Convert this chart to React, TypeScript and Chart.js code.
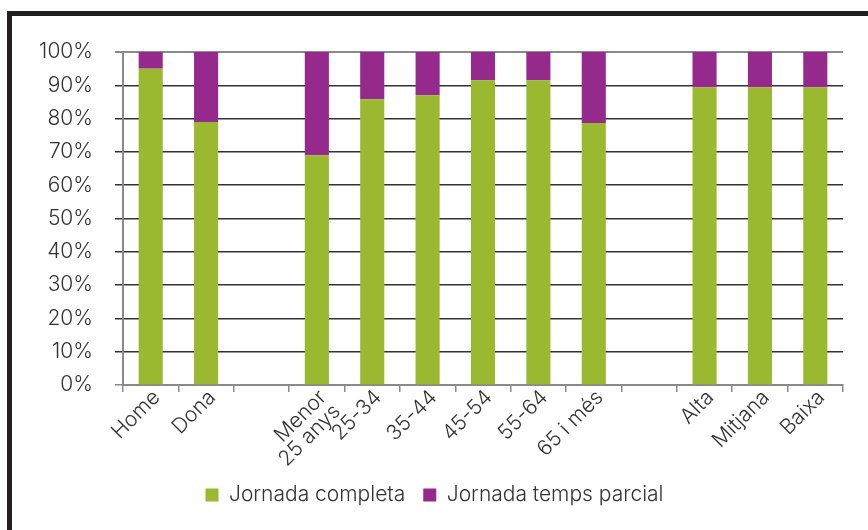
import React, { useEffect, useRef } from 'react';
import { Chart, registerables } from 'chart.js';

Chart.register(...registerables);

const categories: (string | string[])[] = [
  'Home', 'Dona', '', ['Menor', '25 anys'], '25-34', '35-44', '45-54', '55-64', '65 i més', '', 'Alta', 'Mitjana', 'Baixa',
];
const fullTimeValues = [95, 79, null, 69, 85.8, 87, 91.5, 91.5, 78.7, null, 89.4, 89.4, 89.4];
const partTimeValues = [5, 21, null, 31, 14.2, 13, 8.5, 8.5, 21.3, null, 10.6, 10.6, 10.6];
const seriesNames = ['Jornada completa', 'Jornada temps parcial'];
const seriesColors = ['#9ab830', '#952a8c'];

const FONT = 'Inter, "Liberation Sans", sans-serif';
const TEXT = '#333333';

export default function App() {
  const ref = useRef<HTMLCanvasElement | null>(null);

  useEffect(() => {
    if (!ref.current) return;
    const chart = new Chart(ref.current, {
      type: 'bar',
      data: {
        labels: categories,
        datasets: [
          { label: seriesNames[0], data: fullTimeValues, backgroundColor: seriesColors[0], barPercentage: 0.435, categoryPercentage: 1 },
          { label: seriesNames[1], data: partTimeValues, backgroundColor: seriesColors[1], barPercentage: 0.435, categoryPercentage: 1 },
        ],
      },
      options: {
        animation: false,
        responsive: false,
        maintainAspectRatio: false,
        layout: { padding: { left: 26, right: 25, top: 52, bottom: 14.5 } },
        plugins: {
          tooltip: { enabled: false },
          legend: {
            position: 'bottom',
            labels: {
              boxWidth: 13,
              boxHeight: 13,
              padding: 18,
              color: TEXT,
              font: { family: FONT, size: 21, weight: 300 },
            },
          },
        },
        scales: {
          x: {
            stacked: true,
            afterFit: (s: any) => { s.height = 81.5; },
            grid: {
              offset: true,
              drawOnChartArea: false,
              drawTicks: true,
              tickLength: 7,
              color: '#8a8a8a',
              lineWidth: 1.5,
            },
            border: { color: '#8a8a8a', width: 2 },
            ticks: {
              autoSkip: false,
              maxRotation: 45,
              minRotation: 45,
              padding: -5,
              labelOffset: 6,
              color: TEXT,
              font: { family: FONT, size: 21, weight: 300, lineHeight: 0.95 },
            },
          },
          y: {
            stacked: true,
            min: 0,
            max: 100,
            afterFit: (s: any) => { s.width = 97; },
            grid: {
              color: (c: any) => (c.tick && (c.tick.value === 100 || c.tick.value === 0) ? '#8a8a8a' : '#333333'),
              lineWidth: (c: any) => (c.tick && c.tick.value === 100 ? 2 : 1.5),
              tickLength: 8,
            },
            border: { color: '#8a8a8a', width: 2 },
            ticks: {
              stepSize: 10,
              padding: 22,
              color: TEXT,
              font: { family: FONT, size: 21, weight: 300 },
              callback: (v: any) => v + '%',
            },
          },
        },
      },
    });
    return () => chart.destroy();
  }, []);

  return (
    <div style={{ position: 'fixed', left: 0, top: 0, width: 868, height: 530, overflow: 'hidden', background: '#ffffff' }}>
      <canvas ref={ref} width={868} height={530} style={{ position: 'absolute', left: 0, top: 0, width: 868, height: 530 }} />
      <div style={{ position: 'absolute', left: 7, top: 11, width: 1000, height: 1000, borderLeft: '5px solid #231f20', borderTop: '5px solid #231f20', pointerEvents: 'none' }} />
    </div>
  );
}
